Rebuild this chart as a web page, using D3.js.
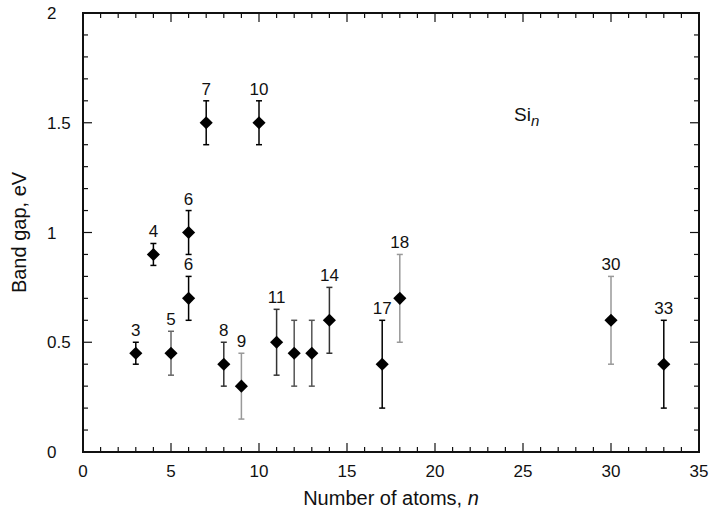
<!DOCTYPE html>
<html>
<head>
<meta charset="utf-8">
<script src="https://cdn.jsdelivr.net/npm/d3@7"></script>
<style>
  body { margin: 0; background: #fff; }
  text { font-family: "Liberation Sans", Arial, sans-serif; fill: #111; }
</style>
</head>
<body>
<svg id="chart" width="710" height="515"></svg>
<script>
// cluster size n, band gap and its error range (eV)
const atoms   = [3, 4, 5, 6, 6, 7, 8, 9, 10, 11, 12, 13, 14, 17, 18, 30, 33];
const gap     = [0.45, 0.9, 0.45, 1.0, 0.7, 1.5, 0.4, 0.3, 1.5, 0.5, 0.45, 0.45, 0.6, 0.4, 0.7, 0.6, 0.4];
const gapLow  = [0.4, 0.85, 0.35, 0.9, 0.6, 1.4, 0.3, 0.15, 1.4, 0.35, 0.3, 0.3, 0.45, 0.2, 0.5, 0.4, 0.2];
const gapHigh = [0.5, 0.95, 0.55, 1.1, 0.8, 1.6, 0.5, 0.45, 1.6, 0.65, 0.6, 0.6, 0.75, 0.6, 0.9, 0.8, 0.6];
const pointLabels = ['3', '4', '5', '6', '6', '7', '8', '9', '10', '11', '', '', '14', '17', '18', '30', '33'];
const barShade = ['#000', '#000', '#666', '#000', '#000', '#000', '#333', '#999', '#000',
                  '#333', '#555', '#555', '#333', '#000', '#999', '#999', '#000'];
const xTicks = [0, 5, 10, 15, 20, 25, 30, 35];
const yTicks = [0, 0.5, 1, 1.5, 2];

const data = atoms.map((n, i) => ({
  n, v: gap[i], lo: gapLow[i], hi: gapHigh[i], c: barShade[i], label: pointLabels[i]
}));

const svg = d3.select('#chart');
const margin = { top: 13, right: 11, bottom: 63, left: 83 };
const width = 710, height = 515;

const x = d3.scaleLinear().domain([0, 35]).range([margin.left, width - margin.right]);
const y = d3.scaleLinear().domain([0, 2]).range([height - margin.bottom, margin.top]);

// minor / major ticks on all four sides, pointing inward
const ax = svg.append('g').attr('stroke', '#111').attr('stroke-width', 1.2);
const xMinor = d3.range(0, 36, 1), yMinor = d3.range(0, 2.01, 0.1);
const isMajorX = t => t % 5 === 0;
const isMajorY = t => Math.abs(t * 2 - Math.round(t * 2)) < 1e-6;
xMinor.forEach(t => {
  const len = isMajorX(t) ? 9 : 5;
  ax.append('line').attr('x1', x(t)).attr('x2', x(t)).attr('y1', y(0)).attr('y2', y(0) - len);
  ax.append('line').attr('x1', x(t)).attr('x2', x(t)).attr('y1', y(2)).attr('y2', y(2) + len);
});
yMinor.forEach(t => {
  const len = isMajorY(t) ? 9 : 5;
  ax.append('line').attr('x1', x(0)).attr('x2', x(0) + len).attr('y1', y(t)).attr('y2', y(t));
  ax.append('line').attr('x1', x(35)).attr('x2', x(35) - len).attr('y1', y(t)).attr('y2', y(t));
});

svg.append('rect')
  .attr('x', x(0)).attr('y', y(2))
  .attr('width', x(35) - x(0)).attr('height', y(0) - y(2))
  .attr('fill', 'none').attr('stroke', '#111').attr('stroke-width', 2);

svg.append('g').selectAll('text')
  .data(xTicks)
  .join('text')
  .attr('x', d => x(d)).attr('y', y(0) + 25)
  .attr('text-anchor', 'middle').attr('font-size', 17)
  .text(d => d);

svg.append('g').selectAll('text')
  .data(yTicks)
  .join('text')
  .attr('x', 47).attr('y', d => y(d) + 6)
  .attr('text-anchor', 'start').attr('font-size', 17)
  .text(d => d);

svg.append('text')
  .attr('x', (x(0) + x(35)) / 2).attr('y', 505)
  .attr('text-anchor', 'middle').attr('font-size', 20)
  .text('Number of atoms, ')
  .append('tspan').attr('font-style', 'italic').text('n');

svg.append('text')
  .attr('transform', `translate(26,${(y(0) + y(2)) / 2}) rotate(-90)`)
  .attr('text-anchor', 'middle').attr('font-size', 20)
  .text('Band gap, eV');

// error bars
const bars = svg.append('g').selectAll('g').data(data).join('g')
  .attr('stroke', d => d.c).attr('stroke-width', 1.5);
bars.append('line')
  .attr('x1', d => x(d.n)).attr('x2', d => x(d.n))
  .attr('y1', d => y(d.lo)).attr('y2', d => y(d.hi));
bars.append('line')
  .attr('x1', d => x(d.n) - 3).attr('x2', d => x(d.n) + 3)
  .attr('y1', d => y(d.hi)).attr('y2', d => y(d.hi));
bars.append('line')
  .attr('x1', d => x(d.n) - 3).attr('x2', d => x(d.n) + 3)
  .attr('y1', d => y(d.lo)).attr('y2', d => y(d.lo));

// diamonds
svg.append('g').selectAll('path').data(data).join('path')
  .attr('transform', d => `translate(${x(d.n)},${y(d.v)})`)
  .attr('d', d3.symbol().type(d3.symbolDiamond2).size(110))
  .attr('fill', '#000');

// cluster size labels above the bars
svg.append('g').selectAll('text').data(data.filter(d => d.label)).join('text')
  .attr('x', d => x(d.n)).attr('y', d => y(d.hi) - 6)
  .attr('text-anchor', 'middle').attr('font-size', 17)
  .text(d => d.label);

const si = svg.append('text').attr('x', 514).attr('y', 121).attr('font-size', 19).text('Si');
si.append('tspan').attr('dy', 5).attr('font-size', 15).attr('font-style', 'italic').text('n');
</script>
</body>
</html>
